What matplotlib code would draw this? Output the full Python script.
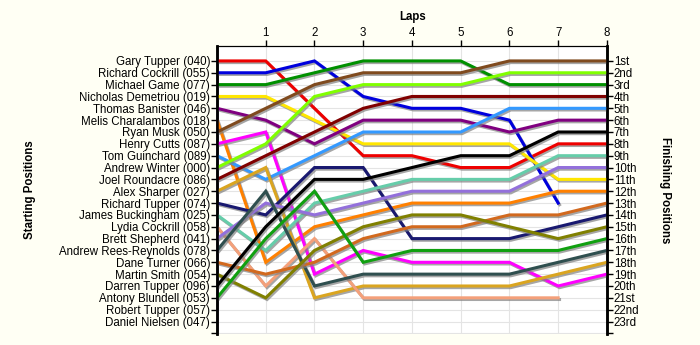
import matplotlib
matplotlib.use("Agg")
import matplotlib.pyplot as plt
import matplotlib.patheffects as pe
import numpy as np

plt.rcParams["font.family"] = ["Liberation Sans", "DejaVu Sans"]

laps = list(range(9))

drivers = [
    "Gary Tupper (040)", "Richard Cockrill (055)", "Michael Game (077)",
    "Nicholas Demetriou (019)", "Thomas Banister (046)", "Melis Charalambos (018)",
    "Ryan Musk (050)", "Henry Cutts (087)", "Tom Guinchard (089)",
    "Andrew Winter (000)", "Joel Roundacre (086)", "Alex Sharper (027)",
    "Richard Tupper (074)", "James Buckingham (025)", "Lydia Cockrill (058)",
    "Brett Shepherd (041)", "Andrew Rees-Reynolds (078)", "Dane Turner (066)",
    "Martin Smith (054)", "Darren Tupper (096)", "Antony Blundell (053)",
    "Robert Tupper (057)", "Daniel Nielsen (047)",
]

finish_labels = [
    "1st", "2nd", "3rd", "4th", "5th", "6th", "7th", "8th", "9th", "10th",
    "11th", "12th", "13th", "14th", "15th", "16th", "17th", "18th", "19th",
    "20th", "21st", "22nd", "23rd",
]

# running position at each lap (lap 0 = grid), one row per starter
positions = [
    [1, 1, 5, 9, 9, 10, 10, 8, 8],
    [2, 2, 1, 4, 5, 5, 6, 13],
    [3, 3, 2, 1, 1, 1, 3, 3, 3],
    [4, 4, 6, 8, 8, 8, 8, 11, 11],
    [5, 6, 8, 6, 6, 6, 7, 6, 6],
    [6, 18, 15, 14, 13, 13, 13, 12, 12],
    [7, 5, 3, 2, 2, 2, 1, 1, 1],
    [8, 7, 19, 17, 18, 18, 18, 20, 19],
    [9, 11, 9, 7, 7, 7, 5, 5, 5],
    [10, 8, 4, 3, 3, 3, 2, 2, 2],
    [11, 9, 7, 5, 4, 4, 4, 4, 4],
    [12, 10, 21, 20, 20, 20, 20, 19, 18],
    [13, 14, 10, 10, 16, 16, 16, 15, 14],
    [14, 17, 13, 12, 11, 11, 11, 9, 9],
    [15, 20, 16, 21, 21, 21, 21, 21],
    [16, 13, 14, 13, 12, 12, 12, 10, 10],
    [17, 12, 20, 19, 19, 19, 19, 18, 17],
    [18, 19, 18, 16, 15, 15, 14, 14, 13],
    [19, 21, 17, 15, 14, 14, 15, 16, 15],
    [20, 15, 11, 11, 10, 9, 9, 7, 7],
    [21, 16, 12, 18, 17, 17, 17, 17, 16],
]

colors = [
    "#ee0000", "#0000dd", "#009000", "#ffe600", "#800080", "#ff8000",
    "#7f4a1e", "#ff00ff", "#3399ff", "#80ff00", "#800000", "#daa520",
    "#191970", "#66cdaa", "#f4a07a", "#9370db", "#2f4f4f", "#d2691e",
    "#808000", "#000000", "#10a010",
]

fig = plt.figure(figsize=(7, 3.45), dpi=100, facecolor="#fffff4")
ax = fig.add_axes([0.31, 0.032, 0.557, 0.835])
ax.set_facecolor("white")

shadow = [pe.SimpleLineShadow(offset=(1, -1.2), shadow_color="#808080", alpha=0.7),
          pe.Normal()]
for pos, col in zip(positions, colors):
    ax.plot(laps[:len(pos)], pos, color=col, lw=2.2, solid_joinstyle="miter",
            path_effects=shadow, zorder=3)

n = len(drivers)
ax.set_xlim(0, 8)
ax.set_ylim(24.05, -0.27)

# grid
for k in range(1, n + 2):
    ax.axhline(k, color="#e4e4e4", lw=0.8, zorder=1)
for lap in laps[1:-1]:
    ax.axvline(lap, color="#e4e4e4", lw=0.8, zorder=1)

ticks = list(range(1, n + 2))
ax.set_yticks(ticks)
ax.set_yticklabels(drivers + [""], fontsize=8.3)
ax.tick_params(axis="y", direction="out", length=4, width=1, pad=1)

ax.set_xticks(laps[1:])
ax.set_xticklabels([str(l) for l in laps[1:]], fontsize=8.3)
ax.xaxis.tick_top()
ax.tick_params(axis="x", direction="out", length=4, width=1, pad=1)

rax = ax.twinx()
rax.set_ylim(ax.get_ylim())
rax.set_yticks(ticks)
rax.set_yticklabels(finish_labels + [""], fontsize=8.3)
rax.tick_params(axis="y", direction="out", length=4, width=1, pad=1)

for a in (ax, rax):
    a.spines["left"].set_linewidth(1.8)
    a.spines["right"].set_linewidth(1.8)
    a.spines["top"].set_linewidth(0.8)
    a.spines["bottom"].set_visible(False)

fig.text(0.589, 0.95, "Laps", ha="center", va="center", fontsize=8.3,
         fontweight="bold")
fig.text(0.043, 0.45, "Starting Positions", ha="center", va="center",
         rotation=90, fontsize=8.3, fontweight="bold")
fig.text(0.95, 0.45, "Finishing Positions", ha="center", va="center",
         rotation=-90, fontsize=8.3, fontweight="bold")

fig.savefig("out.png", dpi=100, facecolor=fig.get_facecolor())
